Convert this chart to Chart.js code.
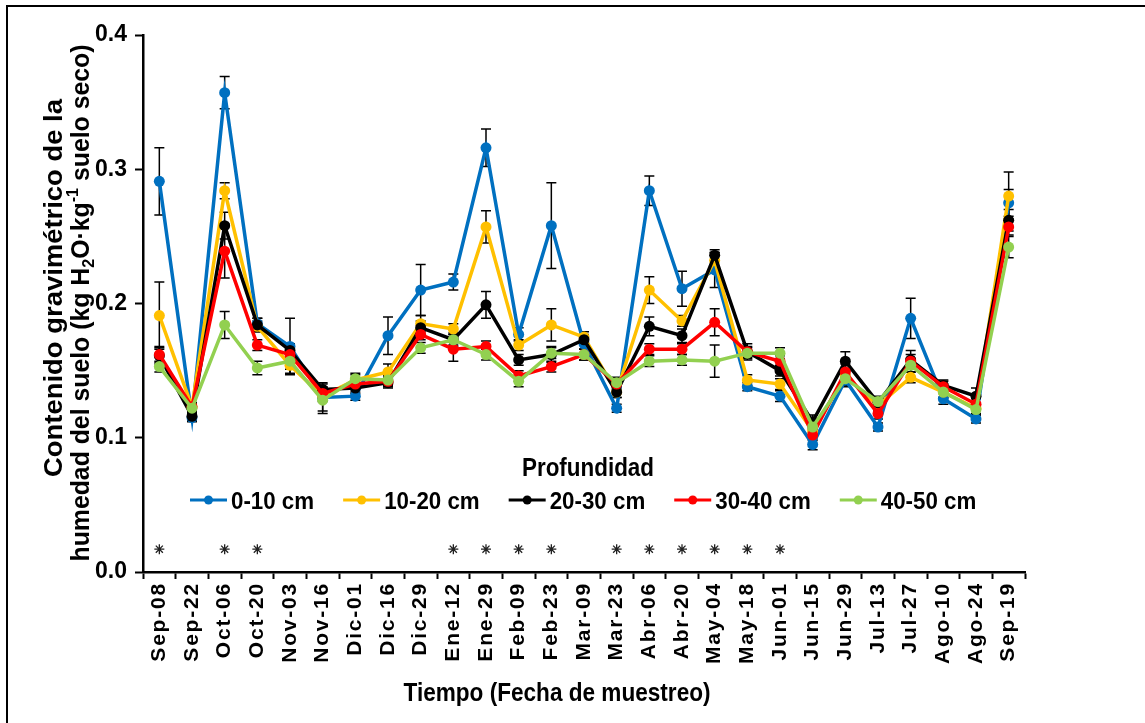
<!DOCTYPE html>
<html><head><meta charset="utf-8">
<script src="https://cdn.jsdelivr.net/npm/chart.js@4.4.1/dist/chart.umd.min.js"></script>
<style>html,body{margin:0;padding:0;background:#fff;}canvas{display:block;}</style>
</head><body><canvas id="c" width="1145" height="723"></canvas>
<script>
// ---------- data ----------
const categories = ['Sep-08','Sep-22','Oct-06','Oct-20','Nov-03','Nov-16','Dic-01','Dic-16','Dic-29','Ene-12','Ene-29','Feb-09','Feb-23','Mar-09','Mar-23','Abr-06','Abr-20','May-04','May-18','Jun-01','Jun-15','Jun-29','Jul-13','Jul-27','Ago-10','Ago-24','Sep-19'];
const seriesNames = ['0-10 cm','10-20 cm','20-30 cm','30-40 cm','40-50 cm'];
const d0_10  = [0.291,0.115,0.357,0.185,0.168,0.130,0.131,0.176,0.210,0.216,0.316,0.177,0.258,0.170,0.122,0.284,0.211,0.225,0.138,0.131,0.095,0.143,0.108,0.189,0.129,0.114,0.275];
const d10_20 = [0.191,0.123,0.284,0.183,0.154,0.131,0.143,0.149,0.185,0.181,0.257,0.169,0.184,0.175,0.134,0.210,0.187,0.232,0.143,0.140,0.105,0.146,0.124,0.145,0.134,0.122,0.280];
const d20_30 = [0.161,0.116,0.258,0.184,0.165,0.136,0.137,0.141,0.182,0.173,0.199,0.158,0.162,0.173,0.134,0.183,0.176,0.236,0.164,0.150,0.112,0.157,0.126,0.158,0.139,0.131,0.262];
const d30_40 = [0.162,0.123,0.239,0.169,0.162,0.133,0.140,0.142,0.177,0.166,0.168,0.146,0.153,0.162,0.140,0.166,0.166,0.186,0.164,0.157,0.102,0.149,0.118,0.157,0.138,0.125,0.257];
const d40_50 = [0.153,0.122,0.184,0.152,0.157,0.128,0.144,0.143,0.167,0.173,0.162,0.142,0.163,0.162,0.141,0.157,0.158,0.157,0.163,0.163,0.108,0.144,0.127,0.154,0.134,0.121,0.242];
const e0_10  = [0.025,0.003,0.012,0.004,0.021,0.010,0.003,0.014,0.019,0.006,0.014,0.005,0.032,0.004,0.003,0.011,0.013,0.013,0.003,0.004,0.004,0.004,0.003,0.015,0.004,0.003,0.010];
const e10_20 = [0.025,0.003,0.006,0.004,0.006,0.004,0.004,0.006,0.006,0.004,0.012,0.004,0.012,0.004,0.004,0.010,0.004,0.006,0.004,0.004,0.004,0.004,0.004,0.004,0.004,0.004,0.018];
const e20_30 = [0.006,0.003,0.010,0.005,0.005,0.005,0.004,0.004,0.005,0.005,0.010,0.004,0.006,0.004,0.004,0.007,0.005,0.004,0.006,0.004,0.005,0.007,0.004,0.004,0.004,0.006,0.008];
const e30_40 = [0.006,0.003,0.020,0.004,0.004,0.004,0.004,0.004,0.004,0.009,0.004,0.004,0.004,0.004,0.004,0.004,0.004,0.010,0.004,0.004,0.004,0.006,0.004,0.008,0.004,0.004,0.006];
const e40_50 = [0.004,0.003,0.010,0.005,0.006,0.010,0.004,0.004,0.004,0.004,0.004,0.004,0.004,0.004,0.004,0.004,0.004,0.012,0.004,0.004,0.004,0.006,0.004,0.005,0.004,0.004,0.008];
const significant = [1,0,1,1,0,0,0,0,0,1,1,1,1,0,1,1,1,1,1,1,0,0,0,0,0,0,0];
const yTicks = [0.0,0.1,0.2,0.3,0.4];
const asteriskLevel = 0.017;

// ---------- styling ----------
const FAM = '"Liberation Sans", Arial, sans-serif';
const colors = ['#0070C0','#FFC000','#000000','#FF0000','#92D050'];
const values = [d0_10,d10_20,d20_30,d30_40,d40_50];
const errors = [e0_10,e10_20,e20_30,e30_40,e40_50];

const datasets = values.map((v,i)=>({
  label: seriesNames[i], data: v, errors: errors[i],
  borderColor: colors[i], backgroundColor: colors[i],
  pointBackgroundColor: colors[i], pointBorderColor: colors[i],
  borderWidth: 3.5, pointRadius: 5.5, pointBorderWidth: 0, tension: 0,
  order: 5 - i
}));
datasets.push({
  label: 'sig', data: significant.map(s => s ? asteriskLevel : null),
  showLine: false, pointStyle: 'star', pointRadius: 5, pointBorderWidth: 1.3,
  pointBorderColor: '#222', pointBackgroundColor: '#222', borderColor: '#222', order: 0
});

function drawRich(ctx, parts, cx, cy, rot, size, target, align) {
  ctx.save();
  let total = 0;
  const m = parts.map(p => {
    const s = p.t ? size * 0.65 : size;
    ctx.font = `bold ${s}px ${FAM}`;
    const w = ctx.measureText(p.s).width; total += w;
    const base = size * 0.36;
    return {s: p.s, size: s, w, y: p.t === 'sub' ? base + size*0.17 : p.t === 'sup' ? base - size*0.42 : base};
  });
  const k = target ? target / total : 1;
  ctx.translate(cx, cy); ctx.rotate(rot); ctx.scale(k, 1);
  let x = align === 'left' ? 0 : -total / 2;
  ctx.textBaseline = 'alphabetic'; ctx.textAlign = 'left'; ctx.fillStyle = '#000';
  m.forEach(p => { ctx.font = `bold ${p.size}px ${FAM}`; ctx.fillText(p.s, x, p.y); x += p.w; });
  ctx.restore();
  return total * k;
}

const errorBars = {
  id: 'errorBars',
  beforeDatasetsDraw(chart) {
    const ctx = chart.ctx, ys = chart.scales.y;
    ctx.save();
    ctx.strokeStyle = '#000'; ctx.lineWidth = 1.5;
    chart.data.datasets.forEach((ds, di) => {
      if (!ds.errors) return;
      const meta = chart.getDatasetMeta(di);
      meta.data.forEach((pt, i) => {
        const v = ds.data[i], e = ds.errors[i];
        if (v == null || !e) return;
        const x = pt.x, y1 = ys.getPixelForValue(v + e), y2 = ys.getPixelForValue(v - e);
        ctx.beginPath();
        ctx.moveTo(x, y1); ctx.lineTo(x, y2);
        ctx.moveTo(x - 5, y1); ctx.lineTo(x + 5, y1);
        ctx.moveTo(x - 5, y2); ctx.lineTo(x + 5, y2);
        ctx.stroke();
      });
    });
    ctx.restore();
  }
};

const spacing = {
  id: 'spacing',
  beforeDraw(chart) {
    const sx = chart.scales.x;
    if (sx && !sx._ls) {
      const orig = sx.drawLabels;
      sx.drawLabels = function(a) { const c = this.ctx; c.save(); c.letterSpacing = '1.8px'; orig.call(this, a); c.restore(); };
      sx._ls = true;
    }
  }
};

const decorations = {
  id: 'decorations',
  afterDraw(chart) {
    const ctx = chart.ctx;
    ctx.save();
    ctx.strokeStyle = '#000'; ctx.lineWidth = 2;
    ctx.beginPath(); ctx.moveTo(6, 6); ctx.lineTo(1145, 6); ctx.moveTo(7, 6); ctx.lineTo(7, 723); ctx.stroke();
    ctx.restore();
    drawRich(ctx, [{s:'Contenido gravimétrico de la'}], 53, 288, -Math.PI/2, 26, 378);
    drawRich(ctx, [{s:'humedad del suelo (kg H'},{s:'2',t:'sub'},{s:'O·kg'},{s:'-1',t:'sup'},{s:' suelo seco)'}], 80, 303, -Math.PI/2, 26, 517);
    drawRich(ctx, [{s:'Tiempo (Fecha de muestreo)'}], 557, 692, 0, 25, 307);
    drawRich(ctx, [{s:'Profundidad'}], 588, 467, 0, 25, 132);
    ctx.save();
    let x = 190; const y = 500;
    seriesNames.forEach((name, i) => {
      ctx.strokeStyle = colors[i]; ctx.fillStyle = colors[i]; ctx.lineWidth = 3;
      ctx.beginPath(); ctx.moveTo(x, y); ctx.lineTo(x + 37, y); ctx.stroke();
      ctx.beginPath(); ctx.arc(x + 18.5, y, 4.5, 0, Math.PI*2); ctx.fill();
      ctx.font = `bold 24px ${FAM}`;
      const w = ctx.measureText(name).width * 0.93;
      drawRich(ctx, [{s:name}], x + 41, y, 0, 24, w, 'left');
      x += 41 + w + 29;
    });
    ctx.restore();
  }
};

new Chart(document.getElementById('c'), {
  type: 'line',
  data: { labels: categories, datasets },
  plugins: [errorBars, spacing, decorations],
  options: {
    responsive: false, animation: false, devicePixelRatio: 1,
    layout: { padding: { left: 0, top: 35, right: 120, bottom: 0 } },
    plugins: { legend: { display: false }, tooltip: { enabled: false } },
    scales: {
      x: {
        offset: true,
        grid: { offset: true, drawOnChartArea: false, drawTicks: true, tickLength: 7, tickWidth: 2, tickColor: '#000' },
        border: { color: '#000', width: 2.5 },
        ticks: { color: '#000', font: { family: FAM, size: 21, weight: 'bold' }, maxRotation: 90, minRotation: 90, padding: 3, autoSkip: false },
        afterFit: s => { s.height = 151; }
      },
      y: {
        min: 0, max: 0.4,
        afterBuildTicks: s => { s.ticks = yTicks.map(v => ({ value: v })); },
        grid: { drawOnChartArea: false, drawTicks: true, tickLength: 8, tickWidth: 2, tickColor: '#000' },
        border: { color: '#000', width: 2.5 },
        ticks: { color: '#000', font: { family: FAM, size: 23, weight: 'bold' }, padding: 8, callback: v => Number(v).toFixed(1) },
        afterFit: s => { s.width = 143; }
      }
    }
  }
});
</script></body></html>
